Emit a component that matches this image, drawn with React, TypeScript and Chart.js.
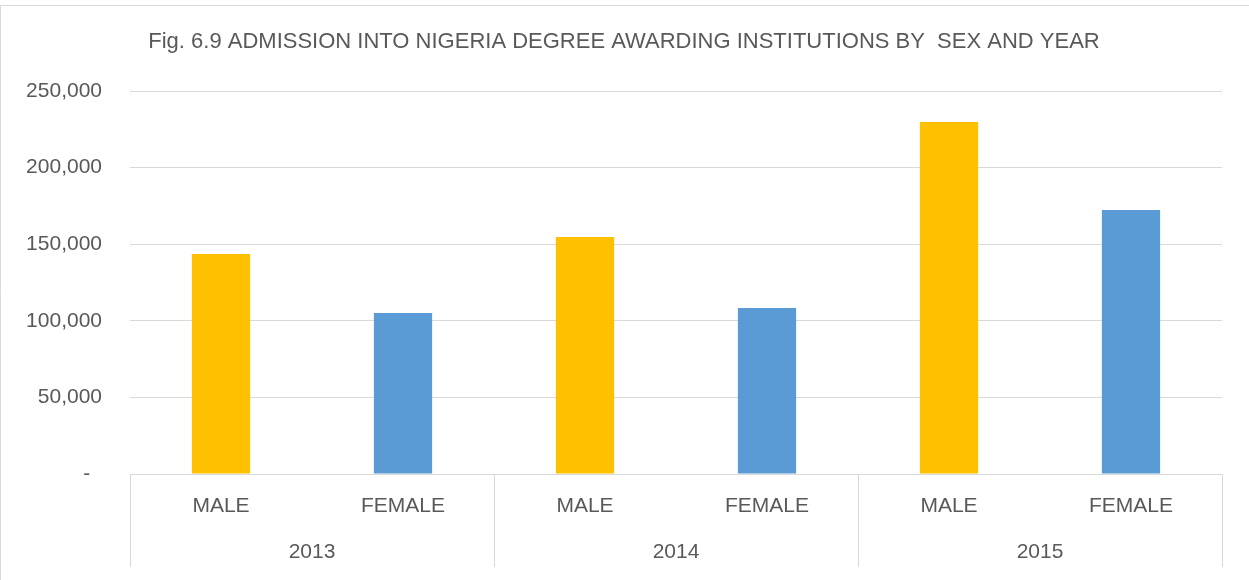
import React, { useEffect, useRef } from 'react';
import { Chart, registerables } from 'chart.js';

Chart.register(...registerables);

const titleText = 'Fig. 6.9 ADMISSION INTO NIGERIA DEGREE AWARDING INSTITUTIONS BY  SEX AND YEAR';
const years = ['2013', '2014', '2015'];
const sexes = ['MALE', 'FEMALE'];
const maleValues = [143600, 154700, 229800];
const femaleValues = [105100, 108350, 172300];
const sexColors = ['#FFC000', '#5B9BD5'];
const yMin = 0;
const yMax = 250000;
const yStep = 50000;

const FONT = '"Liberation Sans", Arial, sans-serif';
const TEXT = '#595959';
const LINE = '#D9D9D9';

const categories = years.flatMap(() => sexes);
const values = years.flatMap((_, i) => [maleValues[i], femaleValues[i]]);
const colors = years.flatMap(() => sexColors);

const decorPlugin = {
  id: 'decor',
  afterDraw(chart: any) {
    const { ctx, chartArea } = chart;
    const x = chart.scales.x;
    const W = chart.width;
    const H = chart.height;
    ctx.save();
    // outer border (top and left)
    ctx.strokeStyle = LINE;
    ctx.lineWidth = 1;
    ctx.beginPath();
    ctx.moveTo(0, 5.5);
    ctx.lineTo(W, 5.5);
    ctx.moveTo(0.5, 5.5);
    ctx.lineTo(0.5, H);
    ctx.stroke();

    // group separators
    const n = sexes.length;
    const bounds: number[] = [];
    for (let g = 0; g <= years.length; g++) {
      if (g === 0) bounds.push(chartArea.left);
      else if (g === years.length) bounds.push(chartArea.right);
      else bounds.push((x.getPixelForValue(g * n - 1) + x.getPixelForValue(g * n)) / 2);
    }
    ctx.beginPath();
    bounds.forEach((bx) => {
      const px = Math.round(bx) + 0.5;
      ctx.moveTo(px, chartArea.bottom);
      ctx.lineTo(px, 567);
    });
    ctx.stroke();

    // year labels
    ctx.fillStyle = TEXT;
    ctx.font = `21px ${FONT}`;
    ctx.textAlign = 'center';
    ctx.textBaseline = 'middle';
    years.forEach((yr, g) => {
      ctx.fillText(yr, (bounds[g] + bounds[g + 1]) / 2, 552);
    });

    // title
    ctx.font = `22px ${FONT}`;
    ctx.fillText(titleText, 624, 42);
    ctx.restore();
  },
};

export default function App() {
  const ref = useRef<HTMLCanvasElement>(null);
  useEffect(() => {
    document.body.style.margin = '0';
    const chart = new Chart(ref.current as HTMLCanvasElement, {
      type: 'bar',
      data: {
        labels: categories,
        datasets: [
          {
            data: values,
            backgroundColor: colors,
            borderWidth: 0,
            barPercentage: 0.32,
            categoryPercentage: 1,
          },
        ],
      },
      options: {
        animation: false,
        responsive: false,
        maintainAspectRatio: false,
        layout: { padding: { top: 91, right: 27, bottom: 0, left: 0 } },
        plugins: {
          legend: { display: false },
          title: { display: false },
          tooltip: { enabled: false },
        },
        scales: {
          x: {
            grid: { display: false, drawTicks: false },
            border: { display: true, color: LINE, width: 1 },
            ticks: {
              color: TEXT,
              font: { family: FONT, size: 21 },
              padding: 20,
              maxRotation: 0,
              autoSkip: false,
            },
            afterFit: (s: any) => {
              s.height = 106;
            },
          },
          y: {
            min: yMin,
            max: yMax,
            grid: { color: LINE, lineWidth: 1, drawTicks: false },
            border: { display: false },
            ticks: {
              stepSize: yStep,
              color: TEXT,
              font: { family: FONT, size: 21 },
              padding: 28,
              callback: (v: any) => (Number(v) === 0 ? '-  ' : Number(v).toLocaleString('en-US')),
            },
            afterFit: (s: any) => {
              s.width = 130;
            },
          },
        },
      },
      plugins: [decorPlugin],
    });
    return () => chart.destroy();
  }, []);
  return (
    <div style={{ width: 1249, height: 580, background: '#fff' }}>
      <canvas ref={ref} width={1249} height={580} />
    </div>
  );
}
